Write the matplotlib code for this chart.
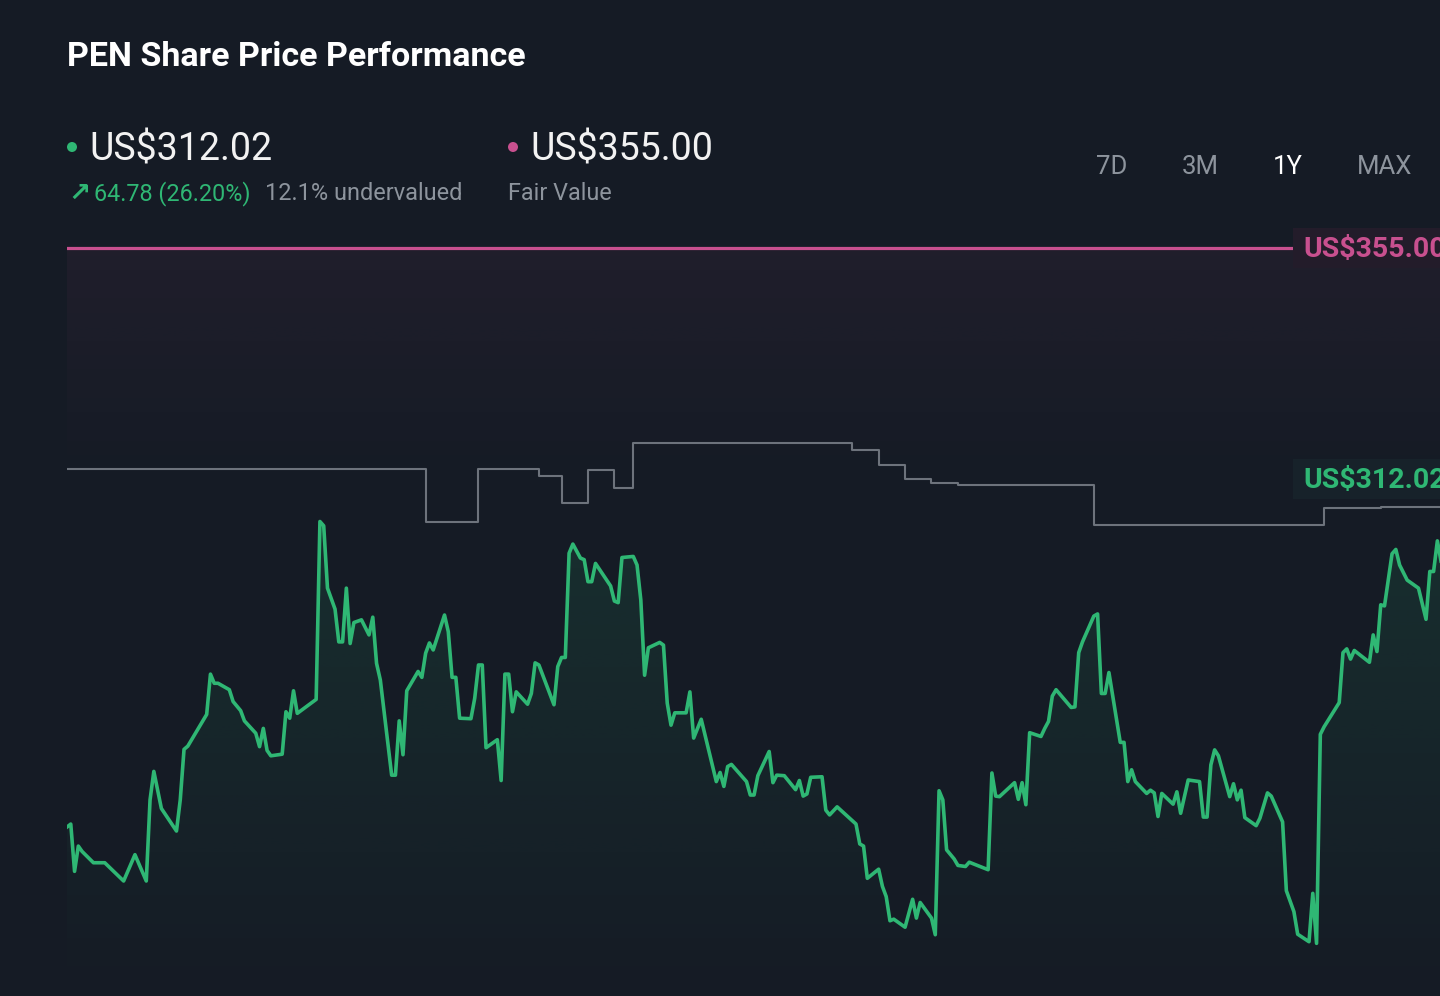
import numpy as np
import matplotlib
matplotlib.use("Agg")
import matplotlib.pyplot as plt
from matplotlib.patches import Rectangle, Ellipse, PathPatch
from matplotlib.colors import to_rgb

plt.rcParams['font.family'] = ['Roboto', 'DejaVu Sans']

# ---- data (calendar days over the last year, price in US$) ----
price_days = [0, 1, 2, 3, 4, 7, 10, 15, 18, 21, 22, 23, 25, 29, 30, 31, 32, 37, 38, 39,
              40, 43, 44, 46, 47, 50, 51, 52, 53, 54, 57, 58, 59, 60, 61, 66, 67, 68, 69, 71,
              72, 73, 74, 75, 76, 78, 80, 81, 82, 83, 86, 87, 88, 89, 90, 93, 94, 95, 96, 97,
              100, 101, 102, 103, 104, 107, 108, 109, 110, 111, 114, 115, 116, 117, 118, 119,
              122, 123, 124, 125, 129, 130, 131, 132, 133, 134, 136, 137, 138, 139, 140, 144,
              145, 146, 147, 150, 151, 152, 153, 154, 157, 158, 159, 160, 161, 164, 165, 166,
              168, 172, 173, 174, 175, 176, 180, 181, 182, 183, 186, 187, 188, 190, 193, 194,
              195, 196, 197, 200, 201, 202, 204, 209, 210, 211, 212, 215, 216, 217, 218, 219,
              222, 223, 224, 225, 226, 229, 230, 231, 232, 233, 235, 236, 238, 239, 244, 245,
              246, 247, 251, 252, 253, 254, 255, 258, 259, 260, 261, 262, 266, 267, 268, 269,
              272, 273, 274, 275, 276, 279, 280, 281, 282, 283, 286, 287, 288, 289, 290, 293,
              294, 295, 297, 300, 301, 302, 303, 304, 305, 308, 309, 310, 311, 312, 315, 316,
              318, 319, 322, 323, 325, 326, 329, 330, 331, 332, 333, 337, 338, 339, 340, 341,
              345, 346, 347, 348, 349, 351, 352, 353, 355, 358, 360, 361, 362, 363, 364, 366]
price_values = [247.24, 247.8, 239.0, 243.7, 242.7, 240.6, 240.6, 237.2, 242.1, 237.2, 252.3, 257.6,
                250.7, 246.5, 252.3, 261.7, 262.3, 268.2, 275.7, 274.0, 274.0, 272.8, 270.6, 268.9,
                267.0, 264.7, 262.2, 265.6, 261.5, 260.5, 260.8, 268.7, 267.5, 272.6, 268.4, 271.0,
                304.1, 303.3, 291.7, 287.8, 281.7, 281.7, 291.7, 281.4, 285.3, 285.8, 283.0, 286.3,
                277.7, 274.6, 256.9, 256.9, 267.0, 260.7, 272.6, 276.2, 275.1, 279.6, 281.5, 280.2,
                286.7, 283.6, 275.1, 275.1, 267.5, 267.4, 271.2, 277.4, 277.4, 262.0, 263.5, 255.9,
                275.7, 275.7, 268.7, 272.4, 270.1, 272.1, 277.8, 277.4, 270.0, 277.1, 278.8, 278.8,
                298.2, 299.9, 297.3, 297.0, 292.9, 292.9, 296.3, 292.1, 289.3, 289.0, 297.4, 297.6,
                296.0, 289.5, 275.5, 280.6, 281.6, 281.1, 270.3, 266.2, 268.5, 268.5, 272.4, 263.8,
                267.3, 255.7, 257.4, 254.8, 258.5, 258.9, 255.7, 253.2, 253.2, 256.8, 261.3, 255.5,
                256.9, 256.8, 254.2, 255.9, 253.0, 253.4, 256.5, 256.6, 250.4, 249.5, 251.0, 247.8,
                244.1, 243.7, 237.7, 239.4, 236.2, 234.3, 229.8, 230.1, 228.6, 231.2, 233.8, 230.3,
                233.2, 230.3, 227.2, 254.0, 252.3, 243.0, 241.3, 240.1, 239.9, 240.7, 239.3, 257.3,
                253.0, 252.9, 255.5, 252.4, 255.5, 251.4, 264.8, 264.1, 265.6, 266.9, 271.6, 272.8,
                269.5, 269.6, 279.7, 281.7, 286.5, 286.9, 272.1, 272.1, 276.0, 263.0, 263.0, 255.7,
                257.9, 255.7, 253.5, 254.1, 253.6, 249.2, 253.5, 251.5, 253.8, 249.8, 256.0, 255.7,
                249.1, 249.1, 258.8, 261.6, 260.5, 252.9, 255.3, 252.3, 254.1, 249.0, 247.5, 248.9,
                253.6, 253.0, 248.2, 235.4, 231.5, 227.3, 225.9, 234.9, 225.6, 264.5, 265.9, 270.4,
                279.7, 280.4, 278.5, 280.1, 277.9, 283.0, 279.9, 288.6, 288.4, 298.1, 298.9, 296.0,
                293.2, 291.7, 285.9, 294.8, 294.8, 300.5, 296.6, 312.02]

# grey step line
step_days = [0, 95, 109, 125, 131, 138, 145, 150, 208, 215, 222, 229, 236, 272, 333, 348, 366]
step_values = [313.9, 304.0, 313.9, 312.6, 307.5, 313.7, 310.3, 318.7, 317.4, 314.6, 312.0,
               311.3, 310.9, 303.5, 306.6, 306.8, 306.8]

ticker = "PEN"
last_price = 312.02
fair_value = 355.00
change_abs = 64.78
change_pct = 26.20
undervalued_pct = 12.1
ranges = ["7D", "3M", "1Y", "MAX"]
active_range = "1Y"

BG = '#151b25'
GREEN = '#2fb774'
PINK = '#c8508f'
GREY_LINE = '#6d737c'
GREY_TEXT = '#8d949d'
W, H = 1440, 996

fig = plt.figure(figsize=(14.4, 9.96), dpi=100, facecolor=BG)

# chart area
ax = fig.add_axes([67 / W, 0, 1 - 67 / W, 766 / H])
ax.axis('off')
XMAX = 363.7
YMIN, YMAX = 215.8, 358.35

# faint pink glow below the fair value line
grad = np.zeros((200, 2, 4))
grad[..., :3] = to_rgb(PINK)
grad[..., 3] = np.linspace(0.065, 0.0, 200)[:, None]
ax.imshow(grad, extent=[0, XMAX, 311, fair_value], aspect='auto', origin='upper', zorder=0)

# green gradient under the price line
fill = ax.fill_between(price_days, price_values, YMIN, color='none', lw=0)
clip = PathPatch(fill.get_paths()[0], transform=ax.transData, facecolor='none', edgecolor='none')
ax.add_patch(clip)
ggrad = np.zeros((200, 2, 4))
ggrad[..., :3] = to_rgb(GREEN)
ggrad[..., 3] = np.linspace(0.13, 0.0, 200)[:, None]
im = ax.imshow(ggrad, extent=[0, 370, YMIN, 304], aspect='auto', origin='upper', zorder=1)
im.set_clip_path(clip)

ax.plot(step_days, step_values, drawstyle='steps-post', color=GREY_LINE, lw=1.5, zorder=2)
ax.axhline(fair_value, color=PINK, lw=2.3, zorder=3)
ax.plot(price_days, price_values, color=GREEN, lw=2.6, zorder=4)

ax.set_xlim(0, XMAX)
ax.set_ylim(YMIN, YMAX)

# value tags at the right edge
trans = ax.get_yaxis_transform()
half = 20 / 5.3746
for val, col, face in [(fair_value, PINK, '#231c2a'), (last_price, GREEN, '#17222a')]:
    ax.add_patch(Rectangle((0.893, val - half), 0.2, 2 * half, transform=trans,
                           facecolor=face, edgecolor='none', zorder=5, clip_on=False))
    ax.text(0.9005, val - 0.3, f"US${val:.2f}", transform=trans, ha='left', va='center',
            fontsize=20.5, fontweight='bold', color=col, zorder=6, clip_on=False)

# header
def fx(px):
    return px / W

def fy(py):
    return 1 - py / H

fig.text(fx(67), fy(57), f"{ticker} Share Price Performance", fontsize=24.5, fontweight='bold',
         color='white', va='center', ha='left')

fig.add_artist(Ellipse((fx(72), fy(147)), 10 / W, 10 / H, transform=fig.transFigure,
                       facecolor=GREEN, edgecolor='none'))
fig.text(fx(89), fy(150), f"US${last_price:.2f}", fontsize=27, color='#f2f2f2', va='center', ha='left')
fig.text(fx(68), fy(194), "\u2197", fontsize=19, color=GREEN, va='center', ha='left',
         family='DejaVu Sans', fontweight='bold')
fig.text(fx(94), fy(194), f"{change_abs:.2f} ({change_pct:.2f}%)", fontsize=16.8, color=GREEN,
         va='center', ha='left')
fig.text(fx(265), fy(194), f"{undervalued_pct:.1f}% undervalued", fontsize=16.9, color=GREY_TEXT,
         va='center', ha='left')

fig.add_artist(Ellipse((fx(513), fy(147)), 10 / W, 10 / H, transform=fig.transFigure,
                       facecolor=PINK, edgecolor='none'))
fig.text(fx(530), fy(150), f"US${fair_value:.2f}", fontsize=27, color='#f2f2f2', va='center', ha='left')
fig.text(fx(508), fy(194), "Fair Value", fontsize=16.8, color=GREY_TEXT, va='center', ha='left')

for label, cx in zip(ranges, [1112, 1200, 1288, 1385]):
    fig.text(fx(cx), fy(167), label, fontsize=18.5, va='center', ha='center',
             color='white' if label == active_range else GREY_TEXT)

fig.savefig("out.png", dpi=100, facecolor=BG)
